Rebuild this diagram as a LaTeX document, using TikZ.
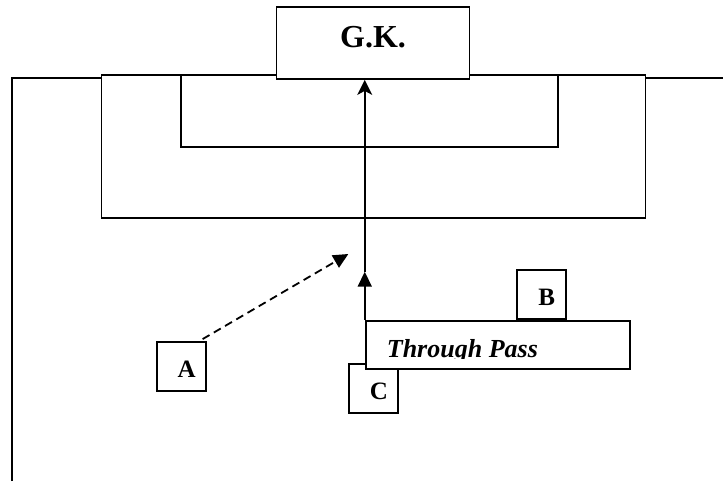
\documentclass[tikz,border=0pt]{standalone}
\usepackage{fontspec}
\setmainfont{Liberation Serif}
\usetikzlibrary{arrows.meta}
\tikzset{
  ln/.style={line width=1.8pt},
  box/.style={draw, line width=1.8pt, fill=white, inner sep=0pt},
  pbox/.style={box, minimum width=49pt, minimum height=49pt, text height=22pt, text depth=0pt,
    font=\fontsize{25}{30}\selectfont\bfseries},
  tip/.style={-{Triangle[length=15pt,width=14pt]}},
}
\begin{document}
\begin{tikzpicture}[x=1pt,y=-1pt]
\useasboundingbox (0,0) rectangle (723,484);
% pitch
\draw[ln] (12,481) -- (12,78) -- (723,78);
\draw[box] (101.4,75) rectangle (645.5,218.3);
\draw[ln] (181.2,75) -- (181.2,146.7) -- (557.9,146.7) -- (557.9,75);
% goalkeeper
\node[box, minimum width=193pt, minimum height=72pt, text height=22pt, text depth=12pt,
  font=\fontsize{32}{38}\selectfont\bfseries] (gk) at (373,43) {G.K.};
% players
\node[pbox] (a) at (181.2,366.5) {\hspace*{11pt}A};
\node[pbox] (b) at (541.2,294.5) {\hspace*{11pt}B};
\node[pbox] (c) at (373.5,388.5) {\hspace*{11pt}C};
% through pass box
\node[box, minimum width=264.3pt, minimum height=48.3pt] (tp) at (497.8,344.8) {};
\begin{scope}
\clip (366,321) rectangle (629,358.3);
\node[anchor=base west, inner sep=0pt, font=\fontsize{26}{31}\selectfont\bfseries\itshape]
  (tptext) at (386.7,357) {Through Pass};
\end{scope}
% runs
\coordinate (mid) at (tp.north west |- 0,271.7);
\coordinate (aim) at (348.3,254);
\draw[ln, tip] (tp.north west) -- (mid);
\draw[ln, -{Stealth[length=15pt,width=15pt,inset=4pt]}] (mid) -- (mid |- gk.south);
\draw[ln, tip, dash pattern=on 8pt off 5pt] ([shift={(-4,-2)}]a.north east) -- (aim);
\end{tikzpicture}
\end{document}
